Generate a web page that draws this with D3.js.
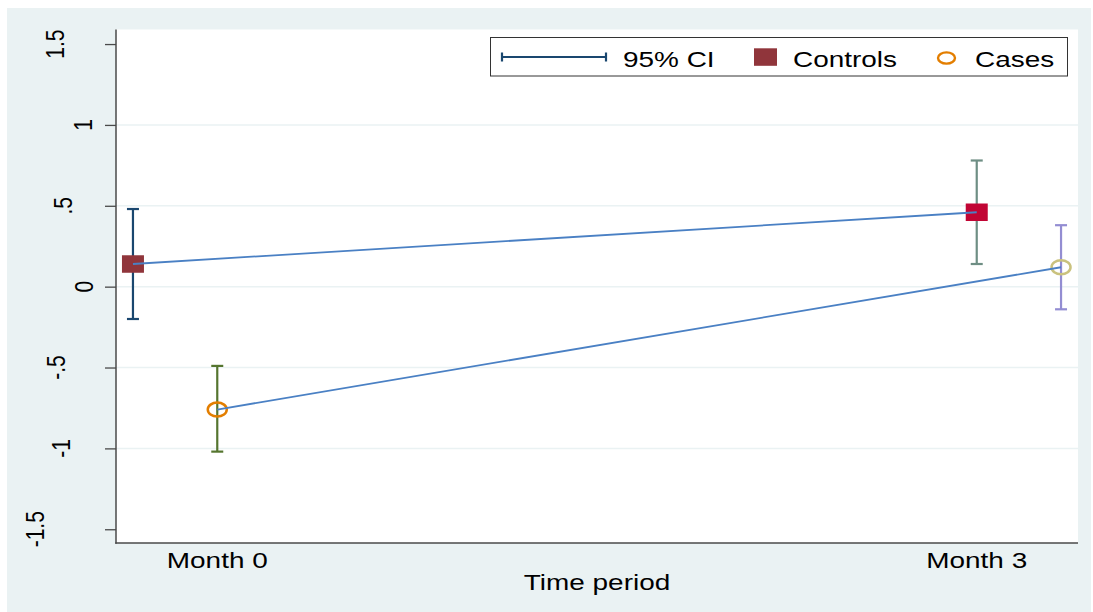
<!DOCTYPE html>
<html>
<head>
<meta charset="utf-8">
<script src="https://cdn.jsdelivr.net/npm/d3@7"></script>
<style>
  html, body { margin: 0; padding: 0; background: #ffffff; }
  svg { display: block; }
  text { font-family: "Liberation Sans", Arial, Helvetica, sans-serif; fill: #000; }
</style>
</head>
<body>
<svg id="chart" width="1093" height="612"></svg>
<script>
// ---- data ----------------------------------------------------------------
const periods = ["Month 0", "Month 3"];
const periodTimes = [0, 3];

// groups are drawn slightly apart on the time axis
const controlsTime = [-0.333, 3];
const controlsMean = [0.14, 0.46];
const controlsLow  = [-0.20, 0.14];
const controlsHigh = [0.48, 0.78];

const casesTime = [0, 3.333];
const casesMean = [-0.76, 0.12];
const casesLow  = [-1.02, -0.14];
const casesHigh = [-0.49, 0.38];

const yTickValues = [-1.5, -1, -0.5, 0, 0.5, 1, 1.5];
const yTickLabels = ["-1.5", "-1", "-.5", "0", ".5", "1", "1.5"];

const legendLabels = ["95% CI", "Controls", "Cases"];

// ---- styling -------------------------------------------------------------
const palette = {
  navy: "#1a476f", maroon: "#90353b", forest: "#55752f", orange: "#e37e00",
  teal: "#6e8e84", cranberry: "#c10534", lavender: "#938dd2", khaki: "#cac27e"
};
const controlsCIColor = [palette.navy, palette.teal];
const controlsMarkColor = [palette.maroon, palette.cranberry];
const casesCIColor = [palette.forest, palette.lavender];
const casesMarkColor = [palette.orange, palette.khaki];
const lineColor = "#4a80c4";
const gridColor = "#eaf2f3";
const axisColor = "#4a4a4a";
const stretch = 1.27;            // text is set wider than tall
const fontSize = 22;
const tickFontSize = 21;
// baseline (screen x) of each rotated y tick label
const yLabelBaseline = { "1.5": 63.5, "1": 92, ".5": 71.5, "0": 93, "-.5": 65, "-1": 70, "-1.5": 43.5 };

const plot = { left: 116, right: 1078, top: 29.5, bottom: 543 };

const svg = d3.select("#chart");

// outer graph region
svg.append("rect").attr("x", 7).attr("y", 8).attr("width", 1084).attr("height", 604)
  .attr("fill", "#eaf2f3");
// plot region
svg.append("rect").attr("x", plot.left).attr("y", plot.top)
  .attr("width", plot.right - plot.left).attr("height", plot.bottom - plot.top)
  .attr("fill", "#ffffff");

const x = d3.scaleLinear().domain([-0.4, 3.4]).range([plot.left, plot.right]);
const y = d3.scaleLinear().domain([-1.585, 1.59]).range([plot.bottom, plot.top]);

// gridlines at interior ticks
svg.append("g").selectAll("line")
  .data(yTickValues.slice(1, -1))
  .join("line")
  .attr("x1", plot.left).attr("x2", plot.right)
  .attr("y1", d => y(d)).attr("y2", d => y(d))
  .attr("stroke", gridColor).attr("stroke-width", 1.5);

// y axis
const yAxis = d3.axisLeft(y).tickValues(yTickValues).tickSize(11).tickFormat("");
const gy = svg.append("g").attr("transform", `translate(${plot.left},0)`).call(yAxis);
gy.select(".domain").remove();
gy.selectAll(".tick line").attr("stroke", axisColor).attr("stroke-width", 1.3);
svg.append("line").attr("x1", plot.left).attr("x2", plot.left)
  .attr("y1", plot.top).attr("y2", plot.bottom + 0.75)
  .attr("stroke", axisColor).attr("stroke-width", 1.5);

svg.append("g").selectAll("text")
  .data(yTickValues)
  .join("text")
  .attr("transform", (d, i) => `translate(${yLabelBaseline[yTickLabels[i]]},${y(d)}) scale(${stretch},1) rotate(-90)`)
  .attr("text-anchor", "middle")
  .attr("font-size", tickFontSize)
  .text((d, i) => yTickLabels[i]);

// x axis
svg.append("line").attr("x1", plot.left - 0.75).attr("x2", plot.right)
  .attr("y1", plot.bottom).attr("y2", plot.bottom)
  .attr("stroke", axisColor).attr("stroke-width", 1.5);

svg.append("g").selectAll("text")
  .data(periods)
  .join("text")
  .attr("transform", (d, i) => `translate(${x(periodTimes[i])},567.5) scale(${stretch},1)`)
  .attr("text-anchor", "middle")
  .attr("font-size", fontSize)
  .text(d => d);

svg.append("text")
  .attr("transform", `translate(${(plot.left + plot.right) / 2},590) scale(${stretch},1)`)
  .attr("text-anchor", "middle")
  .attr("font-size", fontSize)
  .text("Time period");

// ---- marks ---------------------------------------------------------------
function groupData(times, mean, low, high, ciColors, markColors) {
  return times.map((t, i) => ({ t, m: mean[i], lo: low[i], hi: high[i], ci: ciColors[i], mk: markColors[i] }));
}
const controls = groupData(controlsTime, controlsMean, controlsLow, controlsHigh, controlsCIColor, controlsMarkColor);
const cases = groupData(casesTime, casesMean, casesLow, casesHigh, casesCIColor, casesMarkColor);

function drawCI(g, d, color) {
  const cx = x(d.t), cap = 6;
  g.append("line").attr("x1", cx).attr("x2", cx).attr("y1", y(d.lo)).attr("y2", y(d.hi))
    .attr("stroke", color).attr("stroke-width", 2.2);
  [d.lo, d.hi].forEach(v => {
    g.append("line").attr("x1", cx - cap).attr("x2", cx + cap).attr("y1", y(v)).attr("y2", y(v))
      .attr("stroke", color).attr("stroke-width", 2.2);
  });
}

const ciLayer = svg.append("g");
controls.forEach(d => drawCI(ciLayer, d, d.ci));
cases.forEach(d => drawCI(ciLayer, d, d.ci));

const markLayer = svg.append("g");
markLayer.selectAll("rect")
  .data(controls)
  .join("rect")
  .attr("x", d => x(d.t) - 11).attr("y", d => y(d.m) - 8.75)
  .attr("width", 22).attr("height", 17.5)
  .attr("fill", d => d.mk);

markLayer.selectAll("ellipse")
  .data(cases)
  .join("ellipse")
  .attr("cx", d => x(d.t)).attr("cy", d => y(d.m))
  .attr("rx", 9.5).attr("ry", 7)
  .attr("fill", "none").attr("stroke", d => d.mk).attr("stroke-width", 2.5);

const line = d3.line().x(d => x(d.t)).y(d => y(d.m));
[controls, cases].forEach(series => {
  svg.append("path").attr("d", line(series))
    .attr("fill", "none").attr("stroke", lineColor).attr("stroke-width", 1.8);
});

// ---- legend --------------------------------------------------------------
const lg = svg.append("g");
lg.append("rect").attr("x", 490.5).attr("y", 37.5).attr("width", 577).attr("height", 38.5)
  .attr("fill", "#ffffff").attr("stroke", "#333333").attr("stroke-width", 1);

const ly = 57;
lg.append("line").attr("x1", 502).attr("x2", 606).attr("y1", ly).attr("y2", ly)
  .attr("stroke", palette.navy).attr("stroke-width", 2.2);
[502, 606].forEach(px => {
  lg.append("line").attr("x1", px).attr("x2", px).attr("y1", ly - 4.5).attr("y2", ly + 4.5)
    .attr("stroke", palette.navy).attr("stroke-width", 2.2);
});
lg.append("rect").attr("x", 754).attr("y", 48.3).attr("width", 23).attr("height", 17.5)
  .attr("fill", palette.maroon);
lg.append("ellipse").attr("cx", 946.5).attr("cy", 58).attr("rx", 8.5).attr("ry", 5.6)
  .attr("fill", "none").attr("stroke", palette.orange).attr("stroke-width", 2.4);

const legendTextX = [623, 793, 975];
lg.selectAll("text")
  .data(legendLabels)
  .join("text")
  .attr("transform", (d, i) => `translate(${legendTextX[i]},66.7) scale(${stretch},1)`)
  .attr("font-size", fontSize)
  .text(d => d);
</script>
</body>
</html>
